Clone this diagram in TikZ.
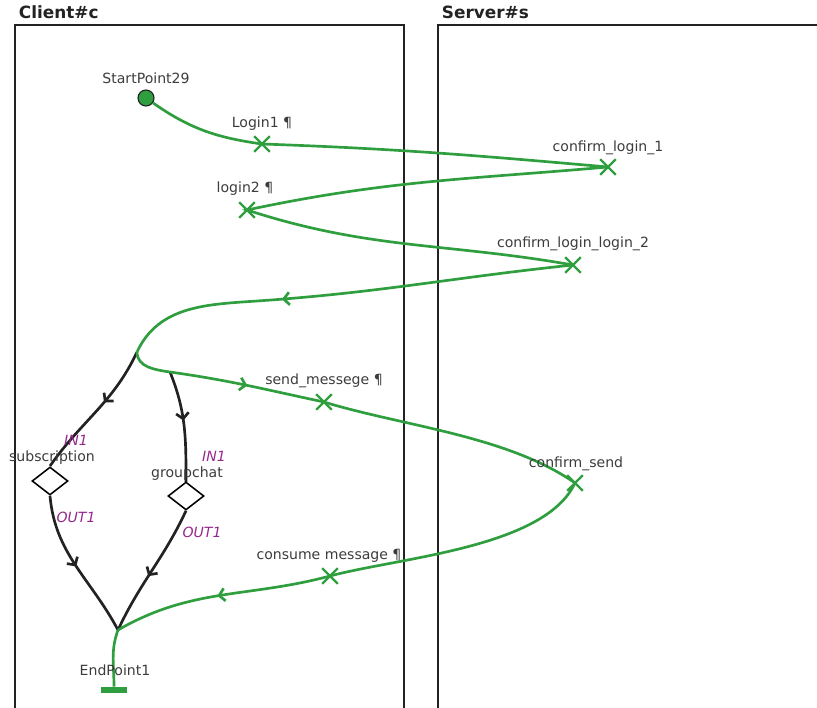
\documentclass[tikz,border=0pt]{standalone}
\usepackage{fontspec}
\setmainfont{DejaVu Sans}
\usepackage{tikz}
\usetikzlibrary{arrows,arrows.meta,calc,decorations.markings,shapes.geometric,shapes.misc}
\definecolor{flowgreen}{RGB}{46,158,62}
\definecolor{portpurple}{RGB}{150,40,140}
\definecolor{lanegray}{RGB}{34,34,34}
\definecolor{textgray}{RGB}{60,60,60}

\begin{document}
\begin{tikzpicture}[
  lane/.style={lanegray, line width=1.8pt},
  lanetitle/.style={anchor=west, font=\large\bfseries, text=lanegray},
  lbl/.style={text=textgray, inner sep=1pt},
  port/.style={font=\itshape, text=portpurple, inner sep=1pt},
  flow/.style={flowgreen, line width=1.9pt},
  branch/.style={lanegray, line width=1.9pt},
  xmark/.style={cross out, draw=flowgreen, line width=1.7pt, minimum size=0.33cm, inner sep=0pt},
  gate/.style={diamond, draw=black, line width=1.1pt, fill=white, minimum width=0.9cm, minimum height=0.7cm, inner sep=0pt},
  midarrow/.style={postaction={decorate}, decoration={markings, mark=at position #1 with {\arrow{Straight Barb[length=4pt,width=9pt]}}}}
]
\useasboundingbox (0cm,0cm) rectangle (20.425cm,-17.7cm);
% lanes
\draw[lane] (0.375cm,-17.8cm) -- (0.375cm,-0.625cm) -- (10.1cm,-0.625cm) -- (10.1cm,-17.8cm);
\draw[lane] (10.95cm,-17.8cm) -- (10.95cm,-0.625cm) -- (20.6cm,-0.625cm);
\node[lanetitle] (clienttitle) at (0.35cm,-0.3cm) {Client\#c};
\node[lanetitle] (servertitle) at (10.925cm,-0.3cm) {Server\#s};

% states
\node[circle, fill=flowgreen, draw=lanegray, line width=0.8pt, minimum size=0.4cm, inner sep=0pt] (start) at (3.65cm,-2.45cm) {};
\node[xmark] (login1) at (6.55cm,-3.6cm) {};
\node[xmark] (conf1) at (15.2cm,-4.175cm) {};
\node[xmark] (login2) at (6.175cm,-5.25cm) {};
\node[xmark] (conf2) at (14.325cm,-6.625cm) {};
\coordinate (back2) at (6.5cm,-7.52cm);
\coordinate (fork) at (3.425cm,-8.8cm);
\coordinate (fork2) at (4.25cm,-9.3cm);
\node[xmark] (sendmsg) at (8.1cm,-10.05cm) {};
\node[xmark] (confsend) at (14.375cm,-12.075cm) {};
\node[xmark] (consume) at (8.25cm,-14.4cm) {};
\coordinate (join) at (2.95cm,-15.75cm);
\node[fill=flowgreen, minimum width=0.65cm, minimum height=0.15cm, inner sep=0pt] (endpt) at (2.85cm,-17.25cm) {};

% black branches
\draw[branch, midarrow=0.42] (fork) to[out=-115,in=55] (1.25cm,-11.65cm) coordinate (subtop);
\draw[branch, midarrow=0.45] (fork2) to[out=-68,in=90] (4.65cm,-12.05cm) coordinate (grouptop);
\node[gate] (subs) at (1.25cm,-12.025cm) {};
\node[gate] (group) at (4.65cm,-12.4cm) {};
\draw[branch, midarrow=0.5] (subs.south) to[out=-85,in=118] (join);
\draw[branch, midarrow=0.55] (group.south) to[out=-115,in=65] (join);

% green flow
\draw[flow] (start) to[out=-35,in=172] (login1.center)
  to[out=-2,in=175] (conf1.center)
  to[out=185,in=12] (login2.center)
  to[out=-18,in=170] (conf2.center);
\draw[flow, midarrow=0.93] (conf2.center) to[out=186,in=4] (back2);
\draw[flow] (back2) to[out=184,in=65] (fork);
\draw[flow] (fork) to[out=-90,in=172] (fork2);
\draw[flow, midarrow=0.5] (fork2) to[out=-8,in=168] (sendmsg.center);
\draw[flow] (sendmsg.center) to[out=-17,in=145,looseness=0.8] (confsend.center)
  to[out=-115,in=15,looseness=0.7] (consume.center);
\draw[flow, midarrow=0.52] (consume.center) to[out=195,in=30] (join);
\draw[flow] (join) to[out=-110,in=90] (endpt.north);

% labels
\node[lbl] (startlbl) at (3.65cm,-1.95cm) {StartPoint29};
\node[lbl] (login1lbl) at (6.55cm,-3.1cm) {Login1 ¶};
\node[lbl] (conf1lbl) at (15.2cm,-3.7cm) {confirm\_login\_1};
\node[lbl] (login2lbl) at (6.125cm,-4.725cm) {login2 ¶};
\node[lbl] (conf2lbl) at (14.325cm,-6.1cm) {confirm\_login\_login\_2};
\node[lbl] (sendlbl) at (8.1cm,-9.525cm) {send\_messege ¶};
\node[lbl] (confsendlbl) at (14.4cm,-11.6cm) {confirm\_send};
\node[lbl] (consumelbl) at (8.225cm,-13.9cm) {consume message ¶};
\node[lbl] (endlbl) at (2.875cm,-16.75cm) {EndPoint1};
\node[port] (subsin) at (1.9cm,-11.0cm) {IN1};
\node[lbl] (subslbl) at (1.3cm,-11.45cm) {subscription};
\node[port] (subsout) at (1.9cm,-12.925cm) {OUT1};
\node[port] (groupin) at (5.35cm,-11.4cm) {IN1};
\node[lbl] (grouplbl) at (4.675cm,-11.85cm) {groupchat};
\node[port] (groupout) at (5.05cm,-13.3cm) {OUT1};
\end{tikzpicture}
\end{document}
